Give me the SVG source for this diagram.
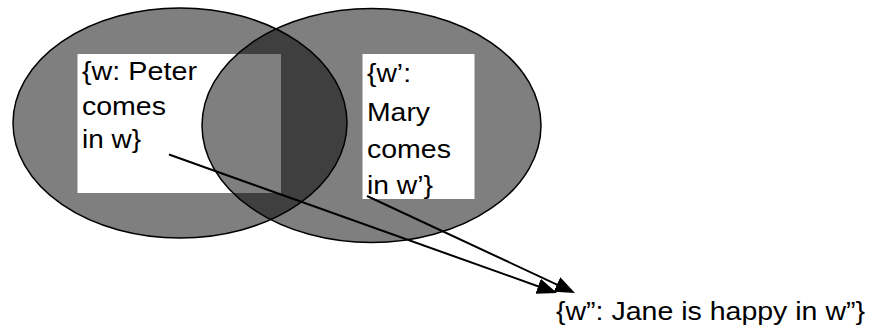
<svg xmlns="http://www.w3.org/2000/svg" width="875" height="329" viewBox="0 0 875 329">
  <style>
    .set { fill: #000000; fill-opacity: 0.5; stroke: #000000; stroke-width: 1.5; }
    .box { fill: #ffffff; stroke: none; }
    .lbl { font-family: "Liberation Sans", Arial, sans-serif; font-size: 26.5px; fill: #000000; }
    .link { stroke: #000000; stroke-width: 2; fill: none; marker-end: url(#head); }
  </style>
  <defs>
    <marker id="head" markerUnits="userSpaceOnUse" markerWidth="20" markerHeight="16" viewBox="0 0 20 16" refX="16" refY="8" orient="auto">
      <path d="M0,0 L20,8 L0,16 z" fill="#000000"/>
    </marker>
  </defs>

  <!-- set of worlds where Peter comes -->
  <g id="world-w">
    <ellipse class="set" cx="180" cy="123" rx="167" ry="115"/>
    <rect class="box" x="77.5" y="54" width="203.5" height="139"/>
    <text class="lbl" x="82" y="80" textLength="115" lengthAdjust="spacingAndGlyphs">{w: Peter</text>
    <text class="lbl" x="82" y="114.5" textLength="84" lengthAdjust="spacingAndGlyphs">comes</text>
    <text class="lbl" x="82" y="148" textLength="59" lengthAdjust="spacingAndGlyphs">in w}</text>
  </g>

  <!-- set of worlds where Mary comes -->
  <g id="world-w1">
    <ellipse class="set" cx="371.5" cy="125.5" rx="169.5" ry="117"/>
    <rect class="box" x="362.5" y="54" width="112" height="145"/>
    <text class="lbl" x="367" y="82" textLength="44" lengthAdjust="spacingAndGlyphs">{w’:</text>
    <text class="lbl" x="367" y="121" textLength="63" lengthAdjust="spacingAndGlyphs">Mary</text>
    <text class="lbl" x="367" y="157.5" textLength="84" lengthAdjust="spacingAndGlyphs">comes</text>
    <text class="lbl" x="367" y="194" textLength="66" lengthAdjust="spacingAndGlyphs">in w’}</text>
  </g>

  <!-- resulting set of worlds -->
  <g id="world-w2">
    <text class="lbl" x="556" y="320" textLength="309" lengthAdjust="spacingAndGlyphs">{w”: Jane is happy in w”}</text>
  </g>

  <g id="connectors">
    <line class="link" x1="169" y1="154.5" x2="553.2" y2="291.7"/>
    <line class="link" x1="367" y1="196" x2="571.4" y2="291.3"/>
  </g>
</svg>
